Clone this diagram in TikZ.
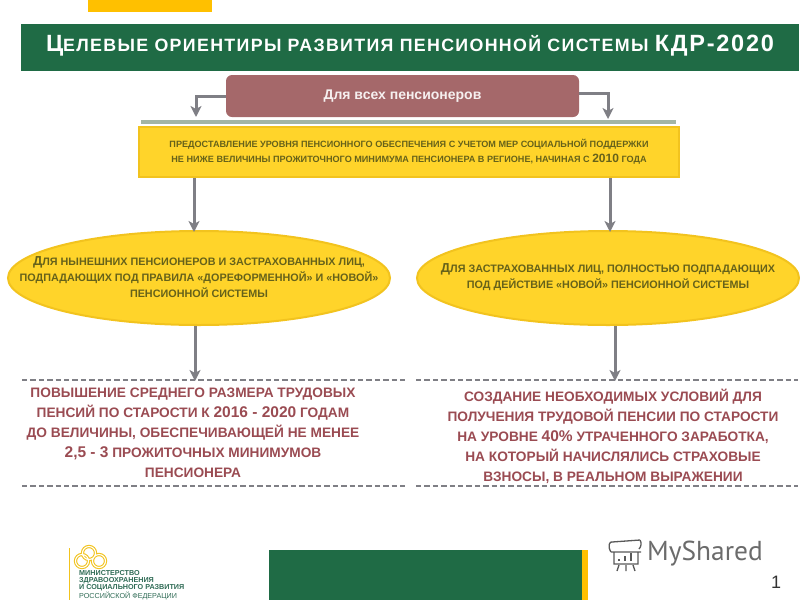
\documentclass[tikz,border=0pt]{standalone}
\usepackage{fontspec}
\setmainfont{Liberation Sans}
\newfontfamily\logofont{PT Sans}
\newfontfamily\headfont[LetterSpace=7.5]{Liberation Sans}
\definecolor{bargreen}{HTML}{1F6B45}
\definecolor{topgold}{HTML}{FFC000}
\definecolor{rosebox}{HTML}{A5686A}
\definecolor{sunfill}{HTML}{FFD42A}
\definecolor{sunedge}{HTML}{F2C31E}
\definecolor{olivetext}{HTML}{66621A}
\definecolor{winetext}{HTML}{9A4B52}
\definecolor{flowgray}{HTML}{7F7F85}
\definecolor{railgreen}{HTML}{A3B5A5}
\definecolor{ministry}{HTML}{2F6B55}
\newcommand{\sz}[1]{\fontsize{#1}{#1}\selectfont}
\tikzset{
  flow/.style={draw=flowgray,line width=3pt,-{Stealth[length=11pt,width=11pt,inset=3pt]}},
  oval/.style={ellipse,draw=sunedge,fill=sunfill,line width=2pt,minimum width=382pt,minimum height=94pt,inner sep=0pt},
  cut/.style={draw=flowgray,line width=2.8pt,dash pattern=on 5.4pt off 3pt},
  ovaltext/.style={text=olivetext,font=\bfseries\fontsize{10.8}{16}\selectfont,align=center},
  goaltext/.style={text=winetext,font=\bfseries\fontsize{13.7}{20}\selectfont,align=center},
  ring/.style={draw=sunedge,line width=1.1pt,double=white,double distance=1.1pt}
}
\usetikzlibrary{arrows.meta,shapes.geometric}
\begin{document}
\begin{tikzpicture}[x=1pt,y=-1pt]
  \useasboundingbox (0,0) rectangle (800,600);
  \fill[topgold] (88,0) rectangle (212,12);
  % header
  \node[fill=bargreen,minimum width=778pt,minimum height=47pt,inner sep=0pt] (headbar) at (410,47.5) {};
  \node[text=white,font=\headfont\bfseries\sz{17.8}] (headtext) at (410,46) {{\sz{23.5}Ц}ЕЛЕВЫЕ ОРИЕНТИРЫ РАЗВИТИЯ ПЕНСИОННОЙ СИСТЕМЫ {\sz{23.5}КДР-2020}};
  \node[fill=rosebox,rounded corners=6pt,minimum width=353pt,minimum height=42pt,inner sep=0pt,text=white!90!rosebox,font=\bfseries\sz{14}] (allbox) at (402.5,96) {Для всех пенсионеров};
  \node[fill=railgreen,minimum width=535pt,minimum height=3.5pt,inner sep=0pt] (rail) at (408.5,122) {};
  \node[fill=sunfill,draw=sunedge,line width=2pt,minimum width=540pt,minimum height=50pt,inner sep=0pt,text=olivetext,font=\bfseries\fontsize{9.1}{14.5}\selectfont,align=center] (basebox) at (409,152) {ПРЕДОСТАВЛЕНИЕ УРОВНЯ ПЕНСИОННОГО ОБЕСПЕЧЕНИЯ С УЧЕТОМ МЕР СОЦИАЛЬНОЙ ПОДДЕРЖКИ\\НЕ НИЖЕ ВЕЛИЧИНЫ ПРОЖИТОЧНОГО МИНИМУМА ПЕНСИОНЕРА В РЕГИОНЕ, НАЧИНАЯ С {\sz{12}2010} ГОДА};
  \node[oval] (leftoval) at (199,278) {};
  \node[oval] (rightoval) at (608,278) {};
  \node[ovaltext] (lefttext) at (199,277) {{\sz{13}Д}ЛЯ НЫНЕШНИХ ПЕНСИОНЕРОВ И ЗАСТРАХОВАННЫХ ЛИЦ,\\ПОДПАДАЮЩИХ ПОД ПРАВИЛА «ДОРЕФОРМЕННОЙ» И «НОВОЙ»\\ПЕНСИОННОЙ СИСТЕМЫ};
  \node[ovaltext] (righttext) at (608,277) {{\sz{13}Д}ЛЯ ЗАСТРАХОВАННЫХ ЛИЦ, ПОЛНОСТЬЮ ПОДПАДАЮЩИХ\\ПОД ДЕЙСТВИЕ «НОВОЙ» ПЕНСИОННОЙ СИСТЕМЫ};
  % dashed frames of the two goals
  \coordinate (topL) at (22,380); \coordinate (topLend) at (405,380);
  \coordinate (topR) at (416,380); \coordinate (topRend) at (798,380);
  \coordinate (lowL) at (22,486); \coordinate (lowLend) at (405,486);
  \coordinate (lowR) at (416,486); \coordinate (lowRend) at (798,486);
  \draw[cut] (topL)--(topLend) (topR)--(topRend) (lowL)--(lowLend) (lowR)--(lowRend);
  \node[goaltext] (leftgoal) at (193,433) {ПОВЫШЕНИЕ СРЕДНЕГО РАЗМЕРА ТРУДОВЫХ\\ПЕНСИЙ ПО СТАРОСТИ К {\sz{15.5}2016 - 2020} ГОДАМ\\ДО ВЕЛИЧИНЫ, ОБЕСПЕЧИВАЮЩЕЙ НЕ МЕНЕЕ\\{\sz{15.5}2,5 - 3} ПРОЖИТОЧНЫХ МИНИМУМОВ\\ПЕНСИОНЕРА};
  \node[goaltext] (rightgoal) at (613,436) {СОЗДАНИЕ НЕОБХОДИМЫХ УСЛОВИЙ ДЛЯ\\ПОЛУЧЕНИЯ ТРУДОВОЙ ПЕНСИИ ПО СТАРОСТИ\\НА УРОВНЕ {\sz{15.5}40\%} УТРАЧЕННОГО ЗАРАБОТКА,\\НА КОТОРЫЙ НАЧИСЛЯЛИСЬ СТРАХОВЫЕ\\ВЗНОСЫ, В РЕАЛЬНОМ ВЫРАЖЕНИИ};
  % connectors
  \coordinate (railL) at (196,117);
  \coordinate (railR) at (608,119);
  \draw[flow] (allbox.west)-|(railL);
  \draw[flow] ([yshift=3pt]allbox.east)-|(railR);
  \coordinate (midL) at (194,232);
  \coordinate (midR) at (610,232);
  \draw[flow] (basebox.south-|midL)--(midL);
  \draw[flow] (basebox.south-|midR)--(midR);
  \coordinate (goalL) at (195,381);
  \coordinate (goalR) at (615,381);
  \draw[flow] (leftoval.south-|goalL)--(goalL);
  \draw[flow] (rightoval.south-|goalR)--(goalR);
  % footer
  \fill[bargreen] (269,550) rectangle (582,600);
  \fill[topgold] (582,550) rectangle (588,600);
  \draw[sunedge,line width=.8pt] (69.5,548)--(69.5,600);
  \draw[ring] (89,553) circle (6.5pt) (82,561) circle (6.5pt) (99,561) circle (6.5pt);
  \node[anchor=north west,inner sep=0pt,text=ministry,font=\bfseries\fontsize{7.2}{6.9}\selectfont,align=left] (ministrytext) at (79,570.5) {МИНИСТЕРСТВО\\ЗДРАВООХРАНЕНИЯ\\И СОЦИАЛЬНОГО РАЗВИТИЯ\\{\mdseries РОССИЙСКОЙ ФЕДЕРАЦИИ}};
  \node[anchor=west,inner sep=0pt,text=black!58,font=\logofont\sz{27.4}] (sharedtext) at (647,554) {MyShared};
  \begin{scope}[draw=black!65,line width=1.3pt]
    \draw (612,542) -- (640,540) (611,552) -- (641,552) (614,552) rectangle (638,564);
    \draw (611,552) .. controls (607,546) and (610,541) .. (612,542);
    \draw (640,540) .. controls (642,543) and (641,547) .. (639,549);
    \draw (619,565) -- (617,571) (626,565) -- (626,571) (633,565) -- (635,571);
    \draw[line width=2pt] (619,561) -- (619,559) (625,561) -- (625,556) (631,561) -- (631,553);
  \end{scope}
  \node[text=black!80,font=\sz{18}] (pagenum) at (776,582) {1};
\end{tikzpicture}
\end{document}
